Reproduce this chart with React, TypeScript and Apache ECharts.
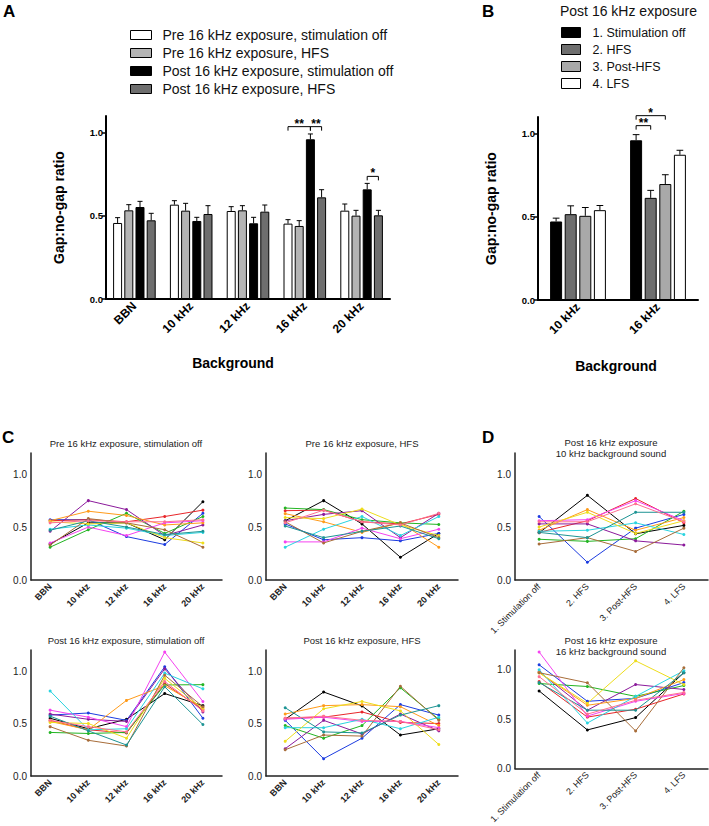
import React, { useEffect, useRef } from "react";
import * as echarts from "echarts";

// ---------- Panel A ----------
const aCategories = ["BBN", "10 kHz", "12 kHz", "16 kHz", "20 kHz"];
const aNames = [
  "Pre 16 kHz exposure, stimulation off",
  "Pre 16 kHz exposure, HFS",
  "Post 16 kHz exposure, stimulation off",
  "Post 16 kHz exposure, HFS",
];
const aPreOff = [0.457, 0.567, 0.529, 0.453, 0.531];
const aPreOffSem = [0.032, 0.024, 0.026, 0.024, 0.04];
const aPreHfs = [0.533, 0.531, 0.533, 0.439, 0.501];
const aPreHfsSem = [0.034, 0.044, 0.028, 0.032, 0.032];
const aPostOff = [0.553, 0.469, 0.455, 0.96, 0.659];
const aPostOffSem = [0.034, 0.022, 0.036, 0.032, 0.036];
const aPostHfs = [0.473, 0.511, 0.525, 0.611, 0.503];
const aPostHfsSem = [0.042, 0.05, 0.04, 0.046, 0.03];
const aColors = ["#ffffff", "#b4b4b4", "#000000", "#6e6e6e"];
// [category, fromSeries, toSeries, height, label]
const aBrackets: [number, number, number, number, string][] = [
  [3, 0, 2, 1.036, "**"],
  [3, 2, 3, 1.036, "**"],
  [4, 2, 3, 0.737, "*"],
];

// ---------- Panel B ----------
const bCategories = ["10 kHz", "16 kHz"];
const bNames = ["1. Stimulation off", "2. HFS", "3. Post-HFS", "4. LFS"];
const bStimOff = [0.472, 0.96];
const bStimOffSem = [0.02, 0.034];
const bHfs = [0.516, 0.614];
const bHfsSem = [0.05, 0.045];
const bPostHfs = [0.506, 0.697];
const bPostHfsSem = [0.05, 0.056];
const bLfs = [0.54, 0.873];
const bLfsSem = [0.028, 0.027];
const bColors = ["#000000", "#6e6e6e", "#a9a9a9", "#ffffff"];
const bBrackets: [number, number, number, number, string][] = [
  [1, 0, 1, 1.048, "**"],
  [1, 0, 2, 1.108, "*"],
];

// ---------- Panels C & D (individual animals) ----------
const subjectColors = [
  "#000000", "#1c3ce0", "#e8262a", "#23b523", "#8b1a9b", "#ff9b1a",
  "#f542f0", "#2ad4e0", "#eedd1c", "#a86d3a", "#1d9494", "#ff6f91",
];
const dCategories = ["1. Stimulation off", "2. HFS", "3. Post-HFS", "4. LFS"];

const cPreOff = [
  [0.34, 0.54, 0.54, 0.38, 0.74],
  [0.57, 0.57, 0.41, 0.335, 0.63],
  [0.56, 0.57, 0.55, 0.6, 0.66],
  [0.31, 0.475, 0.63, 0.44, 0.6],
  [0.46, 0.75, 0.665, 0.42, 0.52],
  [0.56, 0.65, 0.61, 0.52, 0.54],
  [0.35, 0.5, 0.42, 0.54, 0.56],
  [0.48, 0.52, 0.49, 0.42, 0.45],
  [0.55, 0.53, 0.54, 0.4, 0.35],
  [0.33, 0.58, 0.54, 0.475, 0.31],
  [0.47, 0.56, 0.5, 0.43, 0.46],
  [0.54, 0.56, 0.55, 0.55, 0.57],
];
const cPreHfs = [
  [0.56, 0.75, 0.53, 0.215, 0.44],
  [0.53, 0.38, 0.4, 0.37, 0.44],
  [0.655, 0.66, 0.55, 0.53, 0.62],
  [0.68, 0.665, 0.57, 0.54, 0.525],
  [0.56, 0.62, 0.655, 0.4, 0.63],
  [0.627, 0.55, 0.45, 0.54, 0.31],
  [0.36, 0.36, 0.49, 0.39, 0.48],
  [0.31, 0.48, 0.6, 0.42, 0.6],
  [0.59, 0.58, 0.67, 0.52, 0.42],
  [0.55, 0.35, 0.46, 0.54, 0.4],
  [0.51, 0.4, 0.46, 0.51, 0.39],
  [0.54, 0.66, 0.55, 0.52, 0.63],
];
const cPostOff = [
  [0.55, 0.45, 0.54, 0.785, 0.67],
  [0.58, 0.6, 0.53, 1.04, 0.55],
  [0.53, 0.44, 0.41, 0.88, 0.63],
  [0.415, 0.405, 0.415, 0.867, 0.87],
  [0.59, 0.54, 0.52, 1.02, 0.61],
  [0.52, 0.44, 0.72, 0.86, 0.65],
  [0.627, 0.56, 0.47, 1.18, 0.71],
  [0.81, 0.44, 0.45, 0.98, 0.83],
  [0.51, 0.5, 0.36, 0.93, 0.64],
  [0.47, 0.34, 0.285, 0.96, 0.66],
  [0.57, 0.43, 0.295, 0.85, 0.49],
  [0.53, 0.47, 0.42, 0.9, 0.62],
];
const cPostHfs = [
  [0.54, 0.8, 0.668, 0.39, 0.45],
  [0.53, 0.165, 0.36, 0.68, 0.58],
  [0.55, 0.56, 0.61, 0.51, 0.5],
  [0.48, 0.36, 0.48, 0.84, 0.54],
  [0.26, 0.53, 0.4, 0.59, 0.43],
  [0.59, 0.67, 0.68, 0.66, 0.48],
  [0.54, 0.56, 0.52, 0.52, 0.46],
  [0.46, 0.46, 0.54, 0.45, 0.56],
  [0.33, 0.64, 0.71, 0.62, 0.3],
  [0.25, 0.39, 0.38, 0.855, 0.53],
  [0.65, 0.42, 0.41, 0.58, 0.67],
  [0.55, 0.57, 0.53, 0.52, 0.44],
];
const d10k = [
  [0.446, 0.8, 0.437, 0.516],
  [0.6, 0.167, 0.49, 0.62],
  [0.45, 0.56, 0.77, 0.54],
  [0.385, 0.365, 0.39, 0.65],
  [0.53, 0.53, 0.37, 0.33],
  [0.47, 0.665, 0.47, 0.59],
  [0.56, 0.57, 0.75, 0.56],
  [0.46, 0.47, 0.54, 0.43],
  [0.5, 0.64, 0.44, 0.56],
  [0.34, 0.4, 0.27, 0.49],
  [0.45, 0.4, 0.64, 0.64],
  [0.55, 0.55, 0.72, 0.55],
];
const d16k = [
  [0.785, 0.39, 0.515, 0.97],
  [1.05, 0.68, 0.71, 0.87],
  [0.88, 0.52, 0.6, 0.755],
  [0.86, 0.83, 0.73, 0.84],
  [0.98, 0.59, 0.85, 0.8],
  [0.97, 0.64, 0.71, 0.9],
  [1.18, 0.53, 0.68, 0.76],
  [1.0, 0.46, 0.73, 0.99],
  [0.97, 0.66, 1.09, 0.85],
  [0.97, 0.867, 0.38, 1.02],
  [0.87, 0.59, 0.59, 0.97],
  [0.93, 0.55, 0.69, 0.77],
];
const tickValues = [0, 0.5, 1];

const FONT = "'Liberation Sans', Arial, Helvetica, sans-serif";

// bar geometry
const A_BW = 9;
const A_GAP = 2.2;
const B_BW = 12;
const B_GAP = 2.6;

function barSeries(name: string, data: number[], color: string, idx: number, bw: number, gap: number) {
  return {
    type: "bar",
    name,
    data,
    xAxisIndex: idx,
    yAxisIndex: idx,
    barWidth: bw,
    barGap: ((gap / bw) * 100).toFixed(1) + "%",
    itemStyle: { color, borderColor: "#000", borderWidth: 1 },
    silent: true,
    z: 2,
  };
}

function errorSeries(vals: number[], sems: number[], k: number, n: number, bw: number, gap: number, idx: number) {
  const step = bw + gap;
  const cap = bw * 0.28;
  return {
    type: "custom",
    xAxisIndex: idx,
    yAxisIndex: idx,
    z: 1,
    silent: true,
    data: vals.map((v, i) => [i, v, sems[i]]),
    renderItem: (_p: any, api: any) => {
      const c = api.value(0);
      const v = api.value(1);
      const e = api.value(2);
      const p0 = api.coord([c, v]);
      const p1 = api.coord([c, v + e]);
      const x = p0[0] + (k - (n - 1) / 2) * step;
      const st = { stroke: "#000", lineWidth: 1 };
      return {
        type: "group",
        children: [
          { type: "line", shape: { x1: x, y1: p0[1], x2: x, y2: p1[1] }, style: st },
          { type: "line", shape: { x1: x - cap, y1: p1[1], x2: x + cap, y2: p1[1] }, style: st },
        ],
      };
    },
  };
}

function bracketSeries(br: [number, number, number, number, string][], n: number, bw: number, gap: number, idx: number) {
  const step = bw + gap;
  return {
    type: "custom",
    xAxisIndex: idx,
    yAxisIndex: idx,
    z: 6,
    silent: true,
    clip: false,
    data: br.map((b) => [b[0], b[1], b[2], b[3]]),
    renderItem: (params: any, api: any) => {
      const c = api.value(0);
      const s1 = api.value(1);
      const s2 = api.value(2);
      const h = api.value(3);
      const p = api.coord([c, h]);
      const x1 = p[0] + (s1 - (n - 1) / 2) * step;
      const x2 = p[0] + (s2 - (n - 1) / 2) * step;
      const y = p[1];
      const st = { stroke: "#000", lineWidth: 1 };
      return {
        type: "group",
        children: [
          { type: "line", shape: { x1: x1, y1: y, x2: x2, y2: y }, style: st },
          { type: "line", shape: { x1: x1, y1: y, x2: x1, y2: y + 4 }, style: st },
          { type: "line", shape: { x1: x2, y1: y, x2: x2, y2: y + 4 }, style: st },
          {
            type: "text",
            x: (x1 + x2) / 2,
            y: y + 3,
            style: {
              text: br[params.dataIndex][4],
              align: "center",
              verticalAlign: "bottom",
              font: `bold 12px ${FONT}`,
              fill: "#000",
            },
          },
        ],
      };
    },
  };
}

function lineSeries(rows: number[][], idx: number) {
  return rows.map((row, s) => ({
    type: "line",
    name: `panel${idx}-animal${s + 1}`,
    xAxisIndex: idx,
    yAxisIndex: idx,
    data: row,
    symbol: "circle",
    symbolSize: 3,
    showSymbol: true,
    silent: true,
    lineStyle: { width: 1, color: subjectColors[s] },
    itemStyle: { color: subjectColors[s] },
    z: 3,
  }));
}

function barYAxis(idx: number) {
  return {
    gridIndex: idx,
    type: "value",
    min: 0,
    max: 1.1,
    splitLine: { show: false },
    axisLine: { show: true, lineStyle: { color: "#000", width: 2 } },
    axisTick: { show: true, length: 4, customValues: tickValues, lineStyle: { color: "#000", width: 1.5 } },
    axisLabel: {
      customValues: tickValues,
      formatter: (v: number) => v.toFixed(1),
      fontSize: 9.5,
      fontWeight: "bold",
      color: "#000",
      margin: 3,
    },
    name: "Gap:no-gap ratio",
    nameLocation: "middle",
    nameGap: 40,
    nameTextStyle: { fontSize: 14, fontWeight: "bold", color: "#000" },
  };
}

function barXAxis(idx: number, cats: string[], nameGap: number, shiftLeft: number) {
  return {
    gridIndex: idx,
    type: "category",
    data: cats,
    axisLine: { lineStyle: { color: "#000", width: 2 } },
    axisTick: { show: false },
    axisLabel: { rotate: 45, fontSize: 12, fontWeight: "bold", color: "#000", margin: 5 },
    name: "Background",
    nameLocation: "middle",
    nameGap,
    nameTextStyle: { fontSize: 14, fontWeight: "bold", color: "#000", padding: [0, shiftLeft * 2, 0, 0] },
  };
}

function smallYAxis(idx: number) {
  return {
    gridIndex: idx,
    type: "value",
    min: 0,
    max: 1.2,
    splitLine: { show: false },
    axisLine: { show: true, lineStyle: { color: "#222", width: 1.5 } },
    axisTick: { show: false },
    axisLabel: {
      customValues: tickValues,
      formatter: (v: number) => v.toFixed(1),
      fontSize: 10,
      color: "#222",
      margin: 4,
    },
  };
}

function smallXAxis(idx: number, cats: string[], bold: boolean) {
  return {
    gridIndex: idx,
    type: "category",
    data: cats,
    axisLine: { lineStyle: { color: "#222", width: 1.5 } },
    axisTick: { show: false },
    axisLabel: { rotate: 45, fontSize: 9, fontWeight: bold ? "bold" : "normal", color: "#222", margin: 5 },
  };
}

function titleText(text: string, x: number, y: number, lh = 11) {
  return {
    type: "text",
    x,
    y,
    style: { text, font: `9.5px ${FONT}`, fill: "#222", align: "center", verticalAlign: "middle", lineHeight: lh },
  };
}

function letter(text: string, x: number, y: number) {
  return {
    type: "text",
    x,
    y,
    style: { text, font: `bold 17px ${FONT}`, fill: "#000", align: "left", verticalAlign: "top" },
  };
}

export default function App() {
  const ref = useRef<HTMLDivElement>(null);
  useEffect(() => {
    if (!ref.current) return;
    const chart = echarts.init(ref.current, undefined, { renderer: "svg" });
    const aVals = [aPreOff, aPreHfs, aPostOff, aPostHfs];
    const aSems = [aPreOffSem, aPreHfsSem, aPostOffSem, aPostHfsSem];
    const bVals = [bStimOff, bHfs, bPostHfs, bLfs];
    const bSems = [bStimOffSem, bHfsSem, bPostHfsSem, bLfsSem];

    const series: any[] = [];
    aVals.forEach((v, k) => series.push(barSeries(aNames[k], v, aColors[k], 0, A_BW, A_GAP)));
    aVals.forEach((v, k) => series.push(errorSeries(v, aSems[k], k, 4, A_BW, A_GAP, 0)));
    series.push(bracketSeries(aBrackets, 4, A_BW, A_GAP, 0));
    bVals.forEach((v, k) => series.push(barSeries(bNames[k], v, bColors[k], 1, B_BW, B_GAP)));
    bVals.forEach((v, k) => series.push(errorSeries(v, bSems[k], k, 4, B_BW, B_GAP, 1)));
    series.push(bracketSeries(bBrackets, 4, B_BW, B_GAP, 1));
    series.push(...lineSeries(cPreOff, 2));
    series.push(...lineSeries(cPreHfs, 3));
    series.push(...lineSeries(cPostOff, 4));
    series.push(...lineSeries(cPostHfs, 5));
    series.push(...lineSeries(d10k, 6));
    series.push(...lineSeries(d16k, 7));

    const option: any = {
      animation: false,
      backgroundColor: "#ffffff",
      textStyle: { fontFamily: FONT },
      grid: [
        { left: 106, top: 116, width: 284, height: 183 },
        { left: 538, top: 117, width: 160, height: 183 },
        { left: 31, top: 453, width: 191, height: 127 },
        { left: 266, top: 453, width: 192, height: 127 },
        { left: 31, top: 650, width: 191, height: 126 },
        { left: 266, top: 650, width: 192, height: 126 },
        { left: 515, top: 453, width: 193, height: 127 },
        { left: 515, top: 650, width: 193, height: 127 },
      ],
      xAxis: [
        barXAxis(0, aCategories, 57, 15),
        barXAxis(1, bCategories, 59, 2),
        smallXAxis(2, aCategories, true),
        smallXAxis(3, aCategories, true),
        smallXAxis(4, aCategories, true),
        smallXAxis(5, aCategories, true),
        smallXAxis(6, dCategories, false),
        smallXAxis(7, dCategories, false),
      ],
      yAxis: [
        barYAxis(0),
        barYAxis(1),
        smallYAxis(2),
        smallYAxis(3),
        smallYAxis(4),
        smallYAxis(5),
        smallYAxis(6),
        smallYAxis(7),
      ],
      legend: [
        {
          orient: "vertical",
          left: 130,
          top: 28,
          padding: 0,
          itemWidth: 21,
          itemHeight: 9,
          itemGap: 4,
          icon: "rect",
          selectedMode: false,
          data: aNames,
          itemStyle: { borderColor: "#000", borderWidth: 1 },
          textStyle: { fontSize: 14, color: "#111", padding: [0, 0, 0, 6] },
        },
        {
          orient: "vertical",
          left: 561,
          top: 26,
          padding: 0,
          itemWidth: 19,
          itemHeight: 10,
          itemGap: 4,
          icon: "rect",
          selectedMode: false,
          data: bNames,
          itemStyle: { borderColor: "#000", borderWidth: 1 },
          textStyle: { fontSize: 12.5, color: "#111", padding: [0, 0, 0, 7] },
        },
      ],
      graphic: [
        letter("A", 3, 3),
        letter("B", 482, 3),
        letter("C", 2, 429),
        letter("D", 482, 429),
        {
          type: "text",
          x: 560,
          y: 11,
          style: { text: "Post 16 kHz exposure", font: `14px ${FONT}`, fill: "#111", align: "left", verticalAlign: "middle" },
        },
        titleText("Pre 16 kHz exposure, stimulation off", 126, 443),
        titleText("Pre 16 kHz exposure, HFS", 362, 443),
        titleText("Post 16 kHz exposure, stimulation off", 126, 640),
        titleText("Post 16 kHz exposure, HFS", 362, 640),
        titleText("Post 16 kHz exposure\n10 kHz background sound", 611, 448),
        titleText("Post 16 kHz exposure\n16 kHz background sound", 611, 645.5),
      ],
      series,
    };
    chart.setOption(option);
    return () => chart.dispose();
  }, []);
  return (
    <div
      ref={ref}
      style={{ position: "absolute", left: 0, top: 0, width: 709, height: 826, background: "#fff" }}
    />
  );
}
